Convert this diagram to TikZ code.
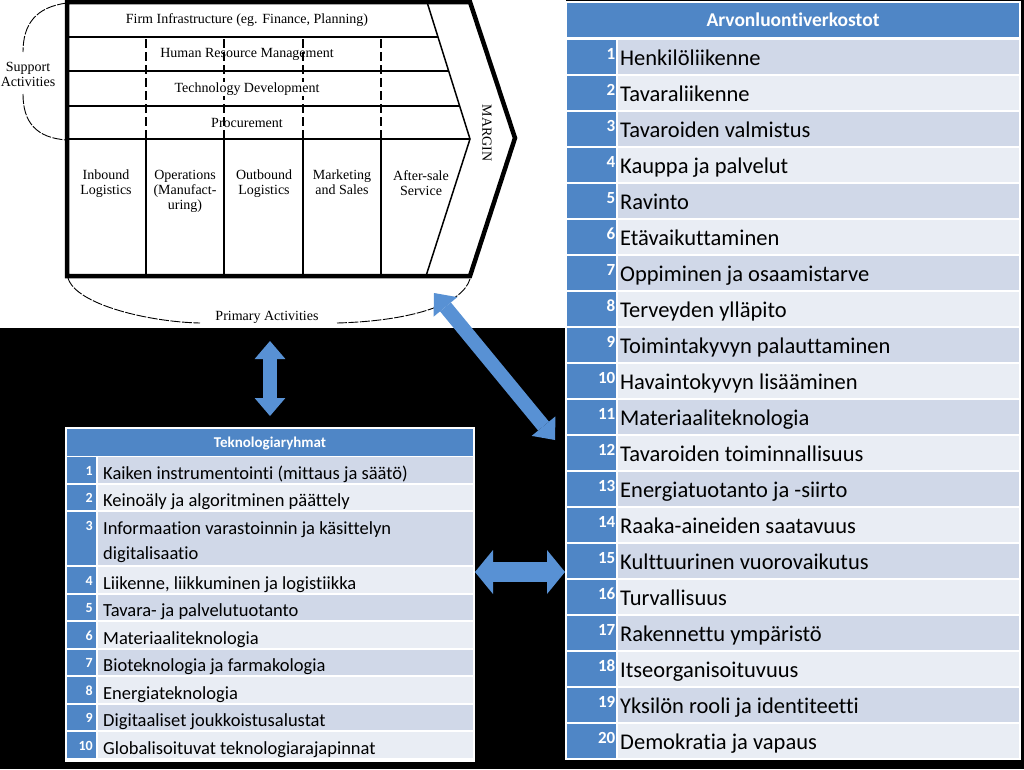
\documentclass[tikz,border=0pt]{standalone}
\usepackage{fontspec}
\setmainfont{Carlito}[Ligatures=NoCommon,RawFeature={-liga;-clig}]
\newfontfamily\chainfont{Liberation Serif}
\usetikzlibrary{arrows.meta}
\definecolor{headblue}{RGB}{79,134,198}
\definecolor{rowdark}{RGB}{208,216,232}
\definecolor{rowlight}{RGB}{233,237,244}
\definecolor{arrowblue}{RGB}{88,145,212}
\begin{document}
\begin{tikzpicture}[x=1pt,y=-1pt,
  panel/.style={fill=white,anchor=north west,inner sep=0pt,outer sep=0pt},
  chaintext/.style={font=\chainfont\fontsize{14}{15}\selectfont,inner sep=0pt,align=center},
  chainline/.style={line width=0.9pt,dash pattern=on 10pt off 1.5pt},
  numtext/.style={anchor=base east,inner sep=0pt,text=white},
  rowtext/.style={anchor=base west,inner sep=0pt,align=left},
  blockarrow/.style={arrowblue,{Triangle[length=18pt,width=0pt 2.2,line width=0pt]}-{Triangle[length=18pt,width=0pt 2.2,line width=0pt]}}]
\useasboundingbox (0,0) rectangle (1024,769);
\fill [black] (0,0) rectangle (1024,769);
\node [panel,minimum width=566pt,minimum height=328pt] (chain) at (0,0) {};
\node [panel,minimum width=456pt,minimum height=759pt] (arvbox) at (565,1) {};
\node [panel,minimum width=410pt,minimum height=335pt] (tekbox) at (65,427) {};
\begin{scope}
\clip (67,2) -- (427,2) -- (470,139) -- (426,276) -- (67,276) -- cycle;
\draw [line width=1.3pt] (67,37) -- (480,37) (67,71) -- (480,71) (67,106) -- (480,106);
\draw [line width=2pt] (67,139) -- (480,139);
\end{scope}
\foreach \x in {146,224,303,381} {
  \draw [line width=1.2pt,dash pattern=on 9pt off 4pt] (\x,39) -- (\x,139);
  \draw [line width=1.2pt] (\x,139) -- (\x,276);
}
\draw [line width=1.5pt] (427,2) -- (470,139) -- (426,276);
\draw [line width=4.5pt,line join=miter] (67,2) -- (470,2) -- (515,138) -- (470,276) -- (67,276) -- cycle;
\node [chaintext] (infra) at (247,20) {Firm Infrastructure (eg. Finance, Planning)};
\node [chaintext] (hrm) at (247,54) {Human Resource Management};
\node [chaintext,fill=white,inner sep=1pt] (techdev) at (247,89) {Technology Development};
\node [chaintext] (procure) at (247,123) {Procurement};
\node [chaintext,anchor=north] (inbound) at (106,170) {Inbound\\Logistics};
\node [chaintext,anchor=north] (operations) at (185,170) {Operations\\(Manufact-\\uring)};
\node [chaintext,anchor=north] (outbound) at (264,170) {Outbound\\Logistics};
\node [chaintext,anchor=north] (marketing) at (342,170) {Marketing\\and Sales};
\node [chaintext,anchor=north] (service) at (421,170) {After-sale\\Service};
\node [chaintext,rotate=-90] (margin) at (487,133) {MARGIN};
\node [chaintext] (support) at (28,74) {Support\\Activities};
\node [chaintext] (primary) at (267,317) {Primary Activities};
\draw [chainline] (67,3) .. controls (36,7) and (23,24) .. (23,52);
\draw [chainline] (23,94) .. controls (23,122) and (36,138) .. (67,140);
\draw [chainline] (68,278) .. controls (76,305) and (150,322) .. (200,323);
\draw [chainline] (337,323) .. controls (410,321) and (462,305) .. (470,279);
\fill [headblue] (567,3) rectangle (1019,37);
\node [text=white,font=\bfseries\fontsize{19.5}{22}\selectfont] (arvhead) at (793,20) {Arvonluontiverkostot};
\foreach \txt [count=\i] in {Henkilöliikenne,Tavaraliikenne,Tavaroiden valmistus,Kauppa ja palvelut,Ravinto,Etävaikuttaminen,Oppiminen ja osaamistarve,Terveyden ylläpito,Toimintakyvyn palauttaminen,Havaintokyvyn lisääminen,Materiaaliteknologia,Tavaroiden toiminnallisuus,Energiatuotanto ja -siirto,Raaka-aineiden saatavuus,Kulttuurinen vuorovaikutus,Turvallisuus,Rakennettu ympäristö,Itseorganisoituvuus,Yksilön rooli ja identiteetti,Demokratia ja vapaus} {
  \pgfmathsetmacro\ytop{40+36*(\i-1)}
  \ifodd\i \def\rowc{rowdark}\else \def\rowc{rowlight}\fi
  \fill [headblue] (567,\ytop) rectangle (616,\ytop+34);
  \fill [\rowc] (618,\ytop) rectangle (1019,\ytop+34);
  \node [numtext,font=\bfseries\fontsize{17}{17}\selectfont] (arvnum\i) at (615.5,\ytop+19.5) {\i};
  \node [rowtext,font=\fontsize{22.5}{27}\selectfont] (arv\i) at (620,\ytop+25) {\txt};
}
\fill [headblue] (67,429) rectangle (473,456);
\node [text=white,font=\bfseries\fontsize{15}{18}\selectfont] (tekhead) at (270,443) {Teknologiaryhmat};
\foreach \txt [count=\i] in {Kaiken instrumentointi (mittaus ja säätö),Keinoäly ja algoritminen päättely,{Informaation varastoinnin ja käsittelyn\\digitalisaatio},{Liikenne, liikkuminen ja logistiikka},Tavara- ja palvelutuotanto,Materiaaliteknologia,Bioteknologia ja farmakologia,Energiateknologia,Digitaaliset joukkoistusalustat,Globalisoituvat teknologiarajapinnat} {
  \pgfmathsetmacro\ytop{457+27.5*(\i-1)+27.5*(\i>3)}
  \pgfmathsetmacro\ybot{\ytop+27.5*(1+(\i==3))-2}
  \pgfmathsetmacro\ybase{\ytop+22+25*(\i==3)}
  \ifodd\i \def\rowc{rowdark}\else \def\rowc{rowlight}\fi
  \fill [headblue] (67,\ytop) rectangle (96,\ybot);
  \fill [\rowc] (98,\ytop) rectangle (473,\ybot);
  \node [numtext,font=\bfseries\fontsize{14}{14}\selectfont] (teknum\i) at (93,\ytop+18) {\i};
  \node [rowtext,font=\fontsize{18.5}{25}\selectfont] (tek\i) at (103,\ybase) {\txt};
}
\draw [blockarrow,line width=14pt,shorten <=13pt,shorten >=11pt] (chain.south -| tekbox.north) -- (tekbox.north);
\draw [blockarrow,line width=20pt] (tekbox.east |- 0,572) -- (arvbox.west |- 0,572);
\coordinate (chainlink) at (434,293);
\coordinate (arvlink) at (555,440);
\draw [blockarrow,line width=14pt] (chainlink) -- (arvlink);
\end{tikzpicture}
\end{document}
